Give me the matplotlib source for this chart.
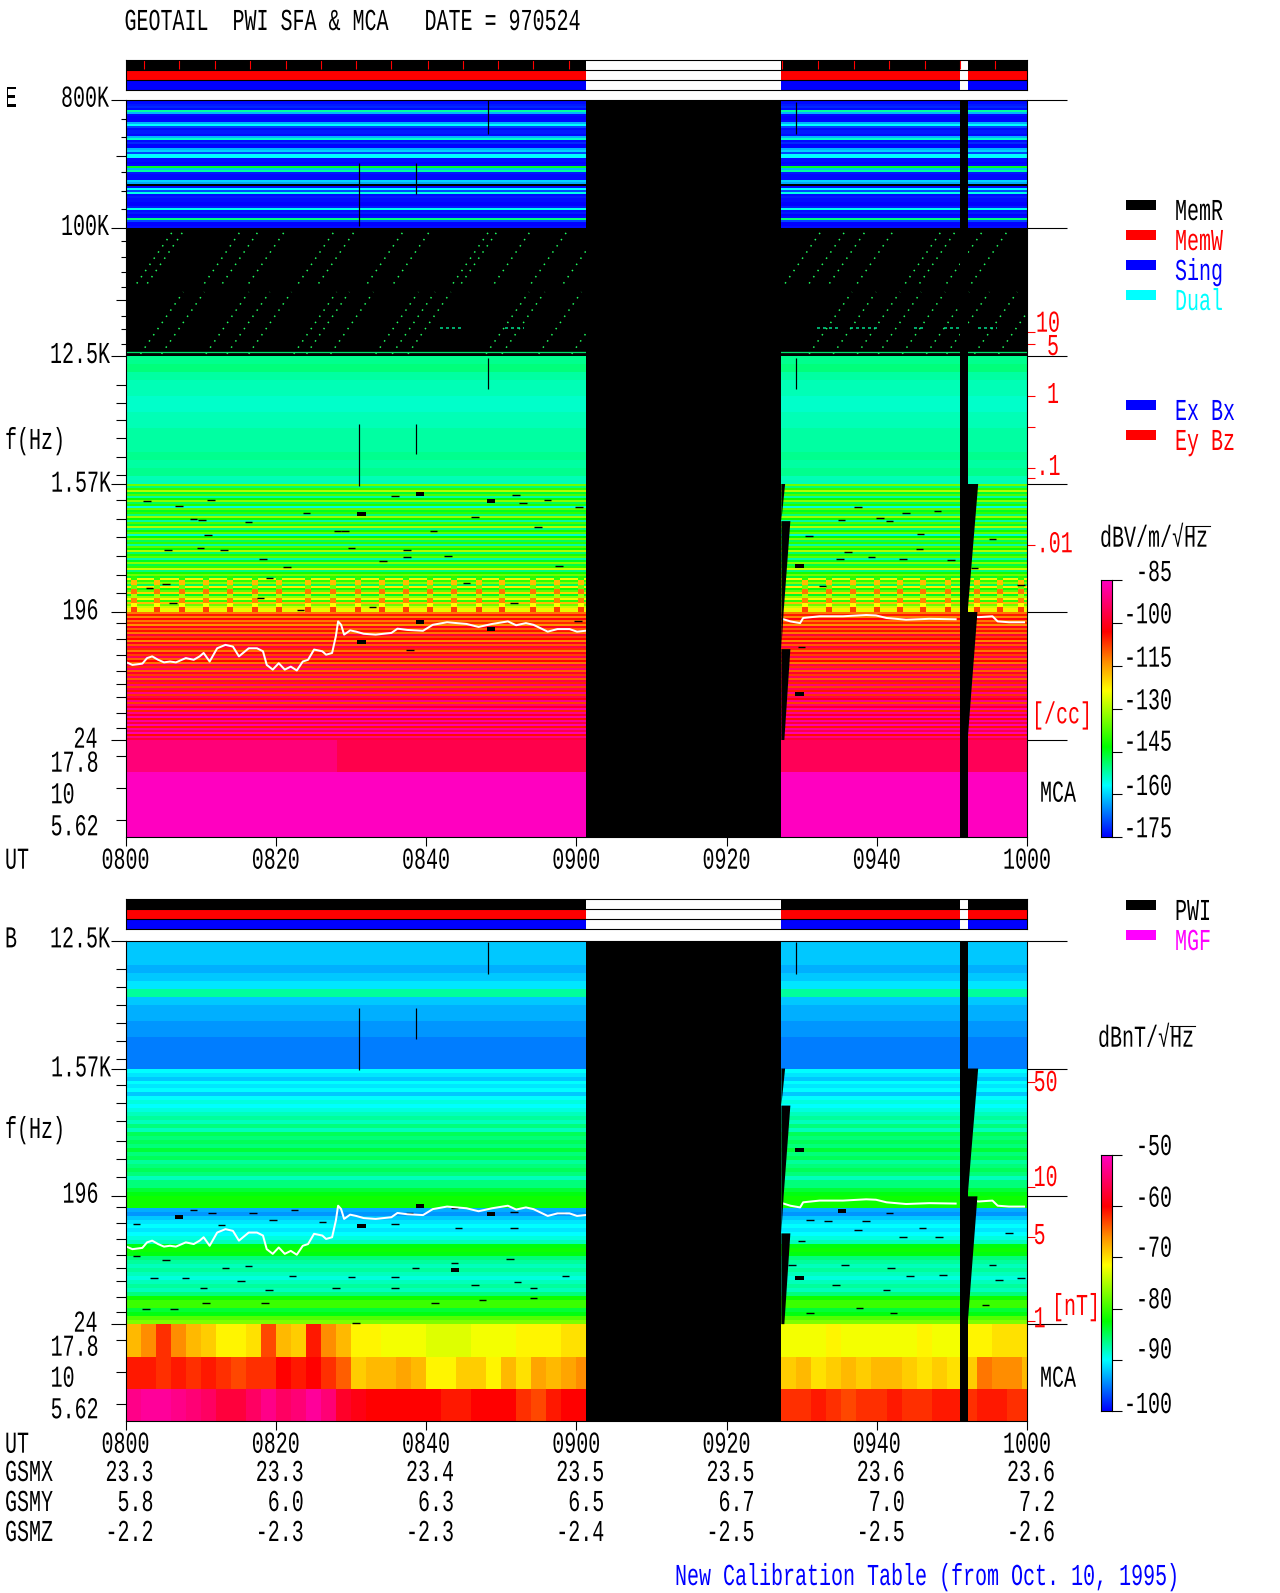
import numpy as np
import matplotlib

matplotlib.use("Agg")
import matplotlib.pyplot as plt
import matplotlib.patheffects as pe
from matplotlib.colors import LinearSegmentedColormap, Normalize
from matplotlib.transforms import Affine2D

# time axis is minutes after 0800, y axis is octaves above 24 Hz
UT_TICKS = [0, 20, 40, 60, 80, 100, 120]
UT_LABELS = ["0800", "0820", "0840", "0900", "0920", "0940", "1000"]
GSMX = ["23.3", "23.3", "23.4", "23.5", "23.5", "23.6", "23.6"]
GSMY = ["5.8", "6.0", "6.3", "6.5", "6.7", "7.0", "7.2"]
GSMZ = ["-2.2", "-2.3", "-2.3", "-2.4", "-2.5", "-2.5", "-2.6"]

DATA_SPANS = [(0, 61.3), (87.3, 111.1), (112.2, 120)]
MEM_TICKS = [2.4, 7.1, 11.9, 16.6, 21.3, 26.0, 30.7, 35.4, 40.2, 44.9, 49.6, 54.3, 59.0,
             87.4, 92.2, 97.0, 101.6, 106.4, 111.1, 115.8]

# frequency ticks
MAJOR_OCT = [15, 12, 9, 6, 3, 0]
MID_OCT = [13.69, 10.31, 8.33]
SHORT_OCT = [14.55, 14.14, 13.31, 12.87, 12.44, 11.69, 11.32, 10.98, 10.62, 9.94, 9.63, 9.28]
LONG_OCT = [7.91, 7.49, 7.07, 6.64, 6.22, 5.62, 5.18, 4.76, 4.31, 3.87, 3.45,
            2.74, 2.37, 2.0, 1.62, 1.31, 1.01, 0.63, 0.28, -0.37, -1.12, -1.87]
E_DENSITY_OCT = [9.56, 9.29, 8.06, 7.34, 6.37, 6.15, 4.58]
B_FIELD_OCT = [5.69, 3.22, 2.05, 0.08]

# band levels in dB, top row first
E_HF_ROWS = [-174, -174, -173, -172, -174, -152, -162, -174, -177, -177, -174, -162, -157, -170, -174, -173,
             -173, -174, -162, -154, -174, -172, -175, -175, -162, -160, -170, -157, -157, -174, -174, -175,
             -174, -145, -162, -152, -173, -174, -174, -174, -160, -163, np.nan, -174, -157, -170, -156, -174,
             -173, -174, -174, -177, -177, -173, -156, -174, -173, -177, -174, -150, -170, -175, -177, -174]
E_NOISE_ROWS = [-151, -150, -152, -153, -153, -154, -154, -153, -153, -152, -152, -152, -151, -152, -151, -153]
E_MID_ROWS = [-135, -150, -140, -130, -146, -138, -152, -143, -133, -148, -141, -155, -136, -145, -140, -150,
              -132, -143, -152, -138, -146, -130, -150, -142, -136, -154, -144, -134, -148, -140, -152, -137,
              -143, -130, -149, -141, -136, -152, -145, -133, -147, -140, -128, -150, -142, -135, -146, -125,
              -140, -133, -148, -122, -142, -136, -120, -145, -132, -125, -140, -118, -135, -128, -122, -126]
E_LOW_ROWS = [-112, -105, -113, -102, -112, -106, -114, -100, -110, -104, -112, -98, -108, -103, -113, -100,
              -110, -96, -106, -112, -101, -108, -95, -110, -103, -112, -96, -107, -93, -110, -99, -108,
              -94, -110, -97, -106, -92, -108, -95, -105, -90, -107, -95, -102, -90, -108, -92, -100,
              -88, -106, -90, -100, -88, -104, -89, -98, -87, -105, -89, -96, -87, -104, -90, -98]
# narrow sweeps that stand out just above 196 Hz
E_SPIN_ROWS = [-140, -118, -135, -112, -130, -113, -124, -108]
E_SPIN_T = [1.08, 4.24, 7.5, 10.76, 13.92, 17.2, 20.4, 24.3, 27.6, 30.9, 34.1, 37.3, 40.5, 43.7, 47.0, 50.1,
            54.2, 57.5, 60.6, 90.4, 93.6, 96.8, 100.0, 103.1, 106.2, 109.5, 113.3, 116.4, 119.2]
B_NOISE_ROWS = [-92, -92, -92, -93, -92, -91, -87, -92, -93, -93, -94, -94, -95, -95, -95, -95]
B_MID_ROWS = [-90, -91, -92, -90, -91, -90, -92, -90, -89, -90, -89, -88, -87, -88, -86, -88,
              -85, -86, -85, -86, -84, -86, -85, -87, -86, -85, -86, -88, -86, -86, -84, -83]
B_LOW_ROWS = [-82, -82, -82, -93, -94, -92, -91, -90, -91, -90, -89, -88, -83, -82, -83, -86,
              -87, -88, -87, -88, -89, -88, -87, -88, -86, -82, -80, -80, -84, -83, -79, -77]

# MCA rows, one level per block
E_MCA_EDGES = [0, 28.2, 61.3]
E_MCA_LEFT = [[-92, -96], [-85, -85], [-85, -85]]
E_MCA_RIGHT_EDGES = [87.3, 120]
E_MCA_RIGHT = [[-95], [-85], [-85]]
B_MCA_EDGES = [0, 2, 4, 6, 8, 10, 12, 14, 16, 18, 20, 22, 24, 26, 28, 30,
               32, 34, 36, 38, 40, 42, 44, 46, 48, 50, 52, 54, 56, 58, 60, 61.3]
B_MCA_LEFT = [
    [-68, -66, -62, -66, -68, -69, -71, -71, -70, -63, -68, -69, -61, -66, -68, -71,
     -71, -72, -72, -72, -73, -73, -73, -72, -72, -72, -71, -71, -71, -70, -70],
    [-61, -61, -62, -61, -62, -61, -62, -63, -62, -62, -60, -61, -60, -62, -64, -69,
     -68, -68, -67, -68, -71, -71, -69, -69, -71, -68, -70, -67, -68, -67, -66],
    [-53, -52, -52, -53, -54, -55, -57, -57, -55, -53, -55, -54, -52, -54, -58, -59,
     -60, -60, -60, -60, -60, -61, -61, -60, -60, -60, -62, -63, -61, -60, -60],
]
B_MCA_RIGHT_EDGES = [87.3, 89.3, 91.3, 93.3, 95.3, 97.3, 99.3, 101.3, 103.3, 105.3,
                     107.3, 109.3, 111.3, 113.3, 115.3, 117.3, 119.3, 120]
B_MCA_RIGHT = [
    [-72, -72, -72, -71, -72, -72, -72, -72, -72, -71, -72, -72, -71, -71, -70, -70, -70],
    [-69, -68, -70, -69, -68, -69, -68, -68, -69, -70, -69, -70, -69, -65, -66, -66, -68],
    [-62, -62, -61, -62, -63, -62, -62, -61, -62, -62, -61, -61, -62, -61, -61, -62, -62],
]

# white upper hybrid trace
TRACE_T = [0.13, 0.92, 2.24, 2.87, 3.55, 4.34, 5.13, 5.92, 6.71, 8.03, 9.08, 9.87, 10.4, 11.2, 12.2, 13.3,
           14.3, 15.1, 16.4, 17.5, 18.3, 18.8, 19.6, 20.4, 21.2, 22.0, 22.8, 23.6, 24.3, 25.1, 26.2, 26.7,
           27.5, 28.0, 28.3, 28.7, 29.1, 29.9, 30.7, 31.7, 33.3, 35.4, 36.2, 37.5, 39.6, 40.9, 42.8, 45.4,
           47.0, 48.8, 50.9, 52.0, 53.3, 54.3, 56.2, 57.5, 59.1, 60.1, 61.2, 70.0,
           87.6, 88.5, 89.8, 90.2, 92.4, 95.5, 98.6, 99.9, 101.3, 103.9, 107.0, 110.5, 111.0,
           112.1, 113.6, 115.4, 116.1, 117.6, 119.6]
TRACE_OCT = [1.82, 1.76, 1.79, 1.92, 1.96, 1.88, 1.82, 1.84, 1.82, 1.92, 1.88, 1.96, 2.04, 1.84, 2.15, 2.23,
             2.19, 1.96, 2.15, 2.15, 2.08, 1.76, 1.65, 1.80, 1.65, 1.72, 1.63, 1.84, 1.88, 2.12, 2.08, 2.0,
             2.04, 2.43, 2.78, 2.70, 2.47, 2.57, 2.54, 2.49, 2.47, 2.51, 2.61, 2.58, 2.56, 2.70, 2.76, 2.72,
             2.65, 2.72, 2.78, 2.69, 2.74, 2.70, 2.54, 2.60, 2.60, 2.54, 2.56, np.nan,
             2.83, 2.78, 2.74, 2.86, 2.90, 2.90, 2.93, 2.92, 2.86, 2.82, 2.84, 2.83, np.nan,
             2.90, 2.88, 2.90, 2.78, 2.76, 2.76]

# dotted diagonal sweeps in the black band
SWEEP_LOW_T = [2.0, 4.8, 10.7, 13.5, 16.4, 22.4, 24.1, 27.3, 33.3, 35.5, 37.6, 48.0, 50.1, 55.0, 59.4,
               91.0, 94.2, 97.4, 100.2, 103.4, 106.6, 109.3, 113.0, 116.2]
SWEEP_HIGH_T = [1.5, 2.9, 10.5, 12.9, 16.4, 23.0, 25.7, 32.2, 35.7, 43.6, 44.7, 49.1, 54.0, 58.3,
                87.8, 91.0, 93.7, 97.4, 103.8, 105.7, 109.3, 112.6]
PATCH_OCT = [9.65, 9.65, 9.65, 9.65, 9.65, 9.65, 9.65]
PATCH_T0 = [41.8, 50.5, 92.0, 96.5, 105.0, 109.0, 113.5]
PATCH_T1 = [45.0, 53.0, 95.0, 100.0, 106.5, 111.0, 116.0]

# short black data dropouts
E_DROP_T = [2.87, 7.13, 11.4, 9.08, 10.2, 16.4, 24.1, 28.2, 29.2, 35.9, 41.0, 46.5, 52.0, 52.9, 56.2, 54.9, 60.4,
            5.66, 10.0, 13.1, 11.0, 18.3, 21.5, 19.2, 34.3, 37.5, 42.9, 57.7, 37.5, 30.1, 45.4, 3.18, 5.4, 18.0,
            6.34, 32.9, 23.3, 37.9, 60.2, 51.7, 95.3, 97.5, 100.4, 101.7, 103.9, 108.1, 105.8, 91.0, 96.2, 99.3,
            95.1, 103.5, 105.7, 109.9, 92.8, 115.4, 113.0, 119.2, 90.0]
E_DROP_OCT = [5.61, 5.49, 5.63, 5.19, 5.16, 5.12, 5.32, 4.90, 4.89, 5.73, 4.90, 5.22, 5.75, 5.55, 5.63, 5.0, 5.46,
              4.46, 4.50, 4.45, 4.80, 4.24, 4.05, 3.80, 4.19, 4.28, 4.32, 4.08, 4.46, 4.50, 3.68, 3.56, 3.65, 3.33,
              3.21, 3.12, 3.05, 2.11, 2.78, 3.21, 5.16, 5.46, 5.2, 5.14, 5.32, 5.37, 4.83, 4.79, 4.40, 4.29,
              4.24, 4.24, 4.47, 4.21, 3.61, 4.71, 4.03, 3.64, 2.19]
B_DROP_T = [9.08, 11.5, 17.0, 22.5, 26.2, 37.8, 43.8, 51.7, 58.0, 1.45, 12.8, 19.6, 35.9, 44.3, 51.7,
            1.45, 5.4, 13.3, 16.4, 22.2, 43.8, 51.2, 38.6, 3.8, 8.0, 15.4, 35.9, 30.1, 58.6, 52.2,
            10.4, 19.1, 28.0, 35.9, 46.5, 54.3, 10.7, 18.6, 41.2, 47.5, 54.3, 2.76, 6.45, 30.7,
            91.1, 93.5, 98.6, 101.7, 106.1, 97.5, 90.0, 103.5, 108.3, 95.8, 88.7, 101.9, 104.4, 108.8,
            94.6, 101.3, 115.4, 117.6, 119.2, 116.3, 97.7, 91.1, 102.2, 114.5]
B_DROP_OCT = [2.68, 2.6, 2.62, 2.69, 2.4, 2.61, 2.72, 2.64, 2.6, 2.36, 2.33, 2.44, 2.36, 2.25, 2.25,
              1.6, 1.5, 1.31, 1.36, 1.13, 1.43, 1.54, 1.31, 1.08, 1.09, 1.01, 1.11, 1.11, 1.13, 1.0,
              0.86, 0.8, 0.84, 0.84, 0.92, 0.86, 0.49, 0.49, 0.49, 0.57, 0.61, 0.35, 0.35, 0.02,
              2.45, 2.42, 2.41, 2.62, 2.25, 2.2, 1.95, 2.05, 2.05, 1.39, 1.39, 1.31, 1.12, 1.16,
              0.92, 0.8, 1.39, 2.13, 1.08, 1.04, 0.38, 0.26, 0.26, 0.45]
E_BLOCK_T = [39.2, 48.7, 31.4, 39.2, 48.7, 31.4, 89.7, 89.7]
E_BLOCK_OCT = [5.73, 5.55, 5.26, 2.73, 2.55, 2.26, 4.04, 1.04]
B_BLOCK_T = [39.2, 48.7, 31.4, 7.1, 43.9, 89.7, 95.4, 89.7]
B_BLOCK_OCT = [2.73, 2.54, 2.25, 2.47, 1.23, 4.04, 2.62, 1.04]
STREAK_T = [48.2, 31.1, 38.7, 48.2, 31.07, 38.7, 89.2, 89.2]
STREAK_TOP = [15, 13.53, 13.53, 8.96, 7.41, 7.41, 14.95, 8.96]
STREAK_BOTTOM = [14.2, 12.05, 12.8, 8.23, 5.96, 6.7, 14.2, 8.23]

# sawtooth edges of the missing sweep next to each gap
GAP_LEFT_T = [87.3, 87.8, 87.3, 88.5, 87.6, 87.3, 88.5, 87.7, 87.3]
GAP_RIGHT_T = [111.1, 113.5, 112.1, 113.4, 112.1, 111.1]
GAP_LEFT_OCT = [6, 6, 5.13, 5.13, 3, 2.13, 2.13, 0, 0]
GAP_RIGHT_OCT = [6, 6, 3, 3, 0, 0]

E_BAR_TICKS = [-175, -160, -145, -130, -115, -100, -85]
B_BAR_TICKS = [-100, -90, -80, -70, -60, -50]

DPI = 100
PX = 72 / DPI
X0, X1 = 125.5, 1027

CMAP = LinearSegmentedColormap.from_list(
    "sfa",
    [(0, "#0000ff"), (0.2, "#00ffff"), (0.35, "#00ff00"), (0.57, "#ffff00"),
     (0.68, "#ff9000"), (0.8, "#ff0000"), (1, "#ff00c0")],
)
CMAP.set_bad("black")
CHAR_STRETCH = 1.52


class Stretch(pe.AbstractPathEffect):
    # the plot font is tall and narrow, stretch glyphs up from the baseline
    def draw_path(self, renderer, gc, tpath, affine, rgbFace=None):
        renderer.draw_path(gc, tpath, Affine2D().scale(1, CHAR_STRETCH) + affine, rgbFace)


fig = plt.figure(figsize=(12.8, 15.93), dpi=DPI)


def px_axes(x0, y0, x1, y1):
    return fig.add_axes([x0 / 1280, 1 - y1 / 1593, (x1 - x0) / 1280, (y1 - y0) / 1593])


overlay = fig.add_axes([0, 0, 1, 1], zorder=10)
overlay.set_xlim(0, 1280)
overlay.set_ylim(1593, 0)
overlay.axis("off")


def label(x, y, s, color="black"):
    overlay.text(x, y, s, family="Liberation Mono", fontsize=14.4, color=color, ha="left",
                 va="baseline", path_effects=[Stretch()])


def side_ticks(ax, octs, length, side="left", color="black"):
    frac = length / (X1 - X0)
    lo, hi = (-frac, 0) if side == "left" else (1, 1 + frac)
    ax.hlines(octs, lo, hi, transform=ax.get_yaxis_transform(), clip_on=False, color=color, lw=1.1 * PX)


def draw_header(y0, show_ticks):
    ax = px_axes(X0, y0, X1, y0 + 30)
    for row, color in enumerate(["blue", "red", "black"]):
        for t0, t1 in DATA_SPANS:
            ax.barh(row + 0.5, t1 - t0, left=t0, height=1, color=color, lw=0)
    ax.hlines([1, 2], 0, 120, color="black", lw=1.1 * PX)
    if show_ticks:
        ax.vlines(MEM_TICKS, 2.1, 3, color="red", lw=1.1 * PX)
    ax.set_xlim(0, 120)
    ax.set_ylim(0, 3)
    ax.set_xticks([])
    ax.set_yticks([])
    for s in ax.spines.values():
        s.set_linewidth(1.1 * PX)


def draw_band(ax, hi, lo, rows, norm):
    edges = np.linspace(hi, lo, len(rows) + 1)
    ax.pcolormesh([0, 120], edges, np.array(rows, dtype=float)[:, None], cmap=CMAP, norm=norm, antialiased=False)


def draw_mca(ax, t_edges, table, norm):
    ax.pcolormesh(t_edges, [0, -0.76, -1.52, -2.28], np.array(table, dtype=float), cmap=CMAP, norm=norm,
                  antialiased=False)


def finish_panel(ax, top, drop_t, drop_oct, block_t, block_oct):
    ax.hlines(drop_oct, np.array(drop_t) - 0.5, np.array(drop_t) + 0.5, color="black", lw=1.4 * PX, zorder=2)
    ax.bar(block_t, 0.09, width=1.1, bottom=block_oct, color="black", zorder=2, align="center")
    mask = np.array(STREAK_TOP) <= top
    ax.vlines(np.array(STREAK_T)[mask], np.array(STREAK_BOTTOM)[mask], np.array(STREAK_TOP)[mask],
              color="black", lw=1.2 * PX, zorder=2)
    ax.plot(TRACE_T, TRACE_OCT, color="white", lw=2 * PX, zorder=2.5)
    ax.axvspan(61.3, 87.3, color="black", lw=0, zorder=3)
    ax.axvspan(111.1, 112.2, color="black", lw=0, zorder=3)
    ax.fill(GAP_LEFT_T, GAP_LEFT_OCT, color="black", lw=0, zorder=3)
    ax.fill(GAP_RIGHT_T, GAP_RIGHT_OCT, color="black", lw=0, zorder=3)

    major = [m for m in MAJOR_OCT if m <= top]
    side_ticks(ax, major, 15)
    side_ticks(ax, major, 40, side="right")
    side_ticks(ax, [m for m in MID_OCT if m <= top], 10)
    side_ticks(ax, [m for m in SHORT_OCT if m <= top], 5)
    side_ticks(ax, LONG_OCT, 10)

    ax.set_xlim(0, 120)
    ax.set_ylim(-2.28, top)
    ax.set_xticks(UT_TICKS)
    ax.set_xticklabels([])
    ax.set_yticks([])
    ax.tick_params(axis="x", length=9 * PX, width=1.1 * PX)
    for s in ax.spines.values():
        s.set_linewidth(1.1 * PX)


def draw_colorbar(y0, y1, ticks):
    ax = px_axes(1100.5, y0, 1111.5, y1)
    norm = Normalize(ticks[0], ticks[-1])
    ax.imshow(np.linspace(ticks[0], ticks[-1], 256)[:, None], origin="lower", aspect="auto", cmap=CMAP, norm=norm,
              extent=[0, 1, ticks[0], ticks[-1]])
    ax.set_xticks([])
    ax.yaxis.tick_right()
    ax.set_yticks(ticks)
    ax.set_yticklabels([])
    ax.tick_params(axis="y", length=9.5 * PX, width=1.1 * PX)
    for s in ax.spines.values():
        s.set_linewidth(1.1 * PX)


# electric field panel
e_norm = Normalize(-175, -85)
draw_header(59.5, True)
ax_e = px_axes(X0, 100, X1, 837.3)
draw_band(ax_e, 15, 12, E_HF_ROWS, e_norm)
draw_band(ax_e, 12, 9, [np.nan], e_norm)
draw_band(ax_e, 9, 6, E_NOISE_ROWS, e_norm)
draw_band(ax_e, 6, 3, E_MID_ROWS, e_norm)
draw_band(ax_e, 3, 0, E_LOW_ROWS, e_norm)
spin_edges = np.linspace(3.85, 3, len(E_SPIN_ROWS) + 1)
for t in E_SPIN_T:
    ax_e.pcolormesh([t - 0.4, t + 0.4], spin_edges, np.array(E_SPIN_ROWS, dtype=float)[:, None], cmap=CMAP,
                    norm=e_norm, antialiased=False, zorder=1.2)
draw_mca(ax_e, E_MCA_EDGES, E_MCA_LEFT, e_norm)
draw_mca(ax_e, E_MCA_RIGHT_EDGES, E_MCA_RIGHT, e_norm)
for t0 in SWEEP_LOW_T:
    ax_e.plot([t0, t0 + 5.7], [9.05, 10.5], color="#20ff60", lw=1.5 * PX, ls=(0, (1, 4)), zorder=1.5)
for t0 in SWEEP_HIGH_T:
    ax_e.plot([t0, t0 + 4.9], [10.7, 11.95], color="#20ff60", lw=1.5 * PX, ls=(0, (1, 4)), zorder=1.5)
ax_e.hlines(PATCH_OCT, PATCH_T0, PATCH_T1, color="#00e090", lw=1.5 * PX, ls=(0, (2, 2)), zorder=1.5)
ax_e.hlines(9.09, 0, 120, color="#00e068", lw=1.3 * PX, zorder=1.5)
finish_panel(ax_e, 15, E_DROP_T, E_DROP_OCT, E_BLOCK_T, E_BLOCK_OCT)
side_ticks(ax_e, E_DENSITY_OCT, 8, side="right", color="red")

# magnetic field panel
b_norm = Normalize(-100, -50)
draw_header(899.3, False)
ax_b = px_axes(X0, 940.7, X1, 1421.3)
draw_band(ax_b, 9, 6, B_NOISE_ROWS, b_norm)
draw_band(ax_b, 6, 3, B_MID_ROWS, b_norm)
draw_band(ax_b, 3, 0, B_LOW_ROWS, b_norm)
draw_mca(ax_b, B_MCA_EDGES, B_MCA_LEFT, b_norm)
draw_mca(ax_b, B_MCA_RIGHT_EDGES, B_MCA_RIGHT, b_norm)
finish_panel(ax_b, 9, B_DROP_T, B_DROP_OCT, B_BLOCK_T, B_BLOCK_OCT)
side_ticks(ax_b, B_FIELD_OCT, 8, side="right", color="red")

draw_colorbar(580.3, 837.3, E_BAR_TICKS)
draw_colorbar(1155, 1411, B_BAR_TICKS)

# texts
label(124.5, 30, "GEOTAIL  PWI SFA & MCA   DATE = 970524")
for x, y, s in [(5, 106.7, "E"), (61, 106.7, "800K"), (61, 235, "100K"), (50, 363, "12.5K"), (5, 449, "f(Hz)"),
                (51, 491.7, "1.57K"), (62.5, 619.3, "196"), (73.5, 747.7, "24"), (50.6, 771.7, "17.8"),
                (50.6, 803.3, "10"), (50.6, 835.3, "5.62"), (5, 868.7, "UT"),
                (5, 947.4, "B"), (50, 947.4, "12.5K"), (51, 1076.4, "1.57K"), (5, 1138, "f(Hz)"),
                (62.5, 1202.7, "196"), (73.5, 1331.7, "24"), (50.6, 1355.7, "17.8"), (50.6, 1386.7, "10"),
                (50.6, 1418.3, "5.62"), (5, 1452.7, "UT"), (5, 1481, "GSMX"), (5, 1511, "GSMY"), (5, 1541, "GSMZ")]:
    label(x, y, s)
for t, ut, gx, gy, gz in zip(UT_TICKS, UT_LABELS, GSMX, GSMY, GSMZ):
    tick_x = X0 + t * (X1 - X0) / 120
    label(tick_x - 24, 868.7, ut)
    label(tick_x - 24, 1452.7, ut)
    label(tick_x - 20, 1481, f"{gx:>4}")
    label(tick_x - 20, 1511, f"{gy:>4}")
    label(tick_x - 20, 1541, f"{gz:>4}")
for x, y, s in [(1036, 331.7, "10"), (1047, 355, "5"), (1047, 403, "1"), (1036.5, 475, ".1"), (1036.7, 552.3, ".01"),
                (1032, 723.3, "[/cc]"), (1033.6, 1091, "50"), (1033.6, 1186, "10"), (1033.6, 1244, "5"),
                (1033.6, 1327.3, "1"), (1052, 1315, "[nT]")]:
    label(x, y, s, "red")
label(1040, 801.7, "MCA")
label(1040, 1386.7, "MCA")
label(1100, 546.7, "dBV/m/\u221aHz")
overlay.plot([1185.7, 1210], [526, 526], color="black", lw=1.1 * PX)
label(1098, 1046.7, "dBnT/\u221aHz")
overlay.plot([1170, 1195], [1026, 1026], color="black", lw=1.1 * PX)
for y, s in [(581, "-85"), (623.3, "-100"), (666.7, "-115"), (709.3, "-130"), (750.7, "-145"), (795, "-160"),
             (837.3, "-175"), (1155, "-50"), (1206.7, "-60"), (1256.7, "-70"), (1308.3, "-80"), (1358.3, "-90"),
             (1413, "-100")]:
    label(1172 - 12 * len(s), y, s)
for y, color, s in [(200, "black", "MemR"), (230, "red", "MemW"), (260, "blue", "Sing"), (290, "cyan", "Dual"),
                    (400, "blue", "Ex Bx"), (430, "red", "Ey Bz"), (900, "black", "PWI"), (930, "magenta", "MGF")]:
    overlay.fill_between([1125.5, 1155.5], y, y + 10, color=color, lw=0)
    label(1175, y + 20, s, color)
label(675, 1585, "New Calibration Table (from Oct. 10, 1995)", "blue")

plt.savefig("out.png", dpi=DPI)
